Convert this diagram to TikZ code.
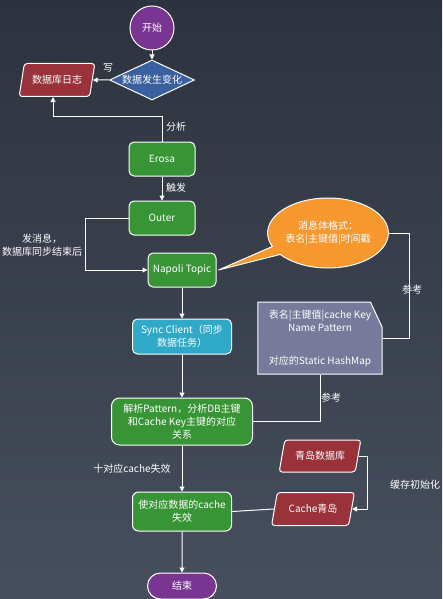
\documentclass[tikz,border=0pt]{standalone}
\usepackage{fontspec}
\setmainfont{Noto Sans CJK SC}
\usepackage{xcolor}
\definecolor{BgTop}{HTML}{2D333E}
\definecolor{BgBottom}{HTML}{474E5D}
\definecolor{FlowPurple}{HTML}{7A3592}
\definecolor{FlowBlue}{HTML}{3A60A0}
\definecolor{FlowRed}{HTML}{9A323B}
\definecolor{FlowGreen}{HTML}{389536}
\definecolor{FlowCyan}{HTML}{30A8C8}
\definecolor{FlowOrange}{HTML}{F7982F}
\definecolor{FlowSlate}{HTML}{777A9A}
\usepackage{tikz}
\usetikzlibrary{positioning,arrows.meta,shapes.geometric,shapes.misc,shapes.callouts}

\tikzset{
  base/.style={draw=white,line width=1pt,text=white,font=\fontsize{10}{13}\selectfont,align=center,inner sep=2pt},
  procbox/.style={base,fill=FlowGreen,rounded corners=5pt,minimum width=66pt,minimum height=34pt},
  iobox/.style={base,trapezium,trapezium left angle=72,trapezium right angle=108,trapezium stretches=true,fill=FlowRed,rounded corners=3pt,minimum height=33pt},
  flow/.style={draw=white,line width=1pt,-{Triangle[length=5pt,width=5pt]}},
  link/.style={draw=white,line width=1pt},
  lbl/.style={text=white,font=\fontsize{10}{13.5}\selectfont,align=center}
}

\begin{document}
\begin{tikzpicture}[x=1pt,y=-1pt]
  \shade[top color=BgTop,bottom color=BgBottom] (0,0) rectangle (442,599);
  \useasboundingbox (0,0) rectangle (442,599);

  % upper part
  \node[base,circle,fill=FlowPurple,minimum size=44pt] (start) at (152,28) {开始};
  \node[base,diamond,fill=FlowBlue,shape aspect=2,inner sep=0pt,minimum width=85pt,minimum height=40pt] (change) at (152,80) {数据发生变化};
  \node[iobox,minimum width=76pt] (dblog) at (57,80) {数据库日志};
  \node[procbox] (erosa) at (162,159) {Erosa};
  \node[procbox,below=24pt of erosa] (outer) {Outer};
  \node[procbox,minimum width=68pt] (napoli) at (182,270) {Napoli Topic};

  % message format and cache key map
  \node[base,ellipse callout,fill=FlowOrange,inner sep=0pt,minimum width=101pt,minimum height=70pt,
        callout absolute pointer={([xshift=2pt]napoli.east)}] (msgfmt) at (328,233) {消息体格式：\\表名|主键值|时间戳};
  \node[base,chamfered rectangle,chamfered rectangle corners=north east,chamfered rectangle xsep=10pt,
        chamfered rectangle angle=25,fill=FlowSlate,minimum width=117pt,minimum height=72pt,inner sep=1pt] (docmap) at (320,338)
        {表名|主键值|cache Key\\Name Pattern\\[20pt]对应的Static HashMap};

  % lower column
  \node[base,fill=FlowCyan,rounded corners=5pt,minimum width=99pt,minimum height=35pt,below=31pt of napoli] (sync) {Sync Client（同步\\数据任务）};
  \node[procbox,rounded corners=8pt,minimum width=141pt,minimum height=47pt,below=43pt of sync] (parse) {解析Pattern，分析DB主键\\和Cache Key主键的对应\\关系};
  \node[procbox,rounded corners=6pt,minimum width=99pt,minimum height=39pt,below=46pt of parse] (invalid) {使对应数据的cache\\失效};
  \node[base,rounded rectangle,fill=FlowPurple,minimum width=73pt,minimum height=26pt,below=41pt of invalid] (finish) {结束};

  \node[iobox,minimum width=82pt,minimum height=32pt] (qddb) at (320,456) {青岛数据库};
  \node[iobox,minimum width=83pt] (qdcache) at (313,509) {Cache青岛};

  % labels
  \node[lbl] (lblWrite) at (108,68) {写};
  \node[lbl] (lblParse) at (176,127) {分析};
  \node[lbl] (lblFire) at (176,188) {触发};
  \node[lbl] (lblSend) at (42,245) {发消息，\\数据库同步结束后};
  \node[lbl] (lblRef) at (412,290) {参考};
  \node[lbl] (lblRefB) at (331,398) {参考};
  \node[lbl] (lblInval) at (132,469) {十对应cache失效};
  \node[lbl] (lblInit) at (415,485) {缓存初始化};

  % connectors
  \coordinate (bendLog) at (53,117);
  \draw[flow] (start) -- (change);
  \draw[flow] (change) -- (dblog);
  \draw[flow] (erosa.north) |- (bendLog) -- (bendLog |- dblog.south);
  \draw[flow] (erosa) -- (outer);
  \draw[flow] (outer.west) -- ++(-43,0) |- (napoli.west);
  \draw[flow] (napoli) -- (sync);
  \draw[flow] (sync) -- (parse);
  \draw[flow] (parse) -- (invalid);
  \draw[flow] (invalid) -- (finish);
  \draw[link] (msgfmt.east) -- ++(21,0) |- (docmap.east);
  \draw[link] (docmap.south) |- (parse.east);
  \draw[flow] (qddb.east) -- ++(9,0) |- (qdcache.east);
  \draw[link] (qdcache.west) -- (invalid.east);
\end{tikzpicture}
\end{document}
